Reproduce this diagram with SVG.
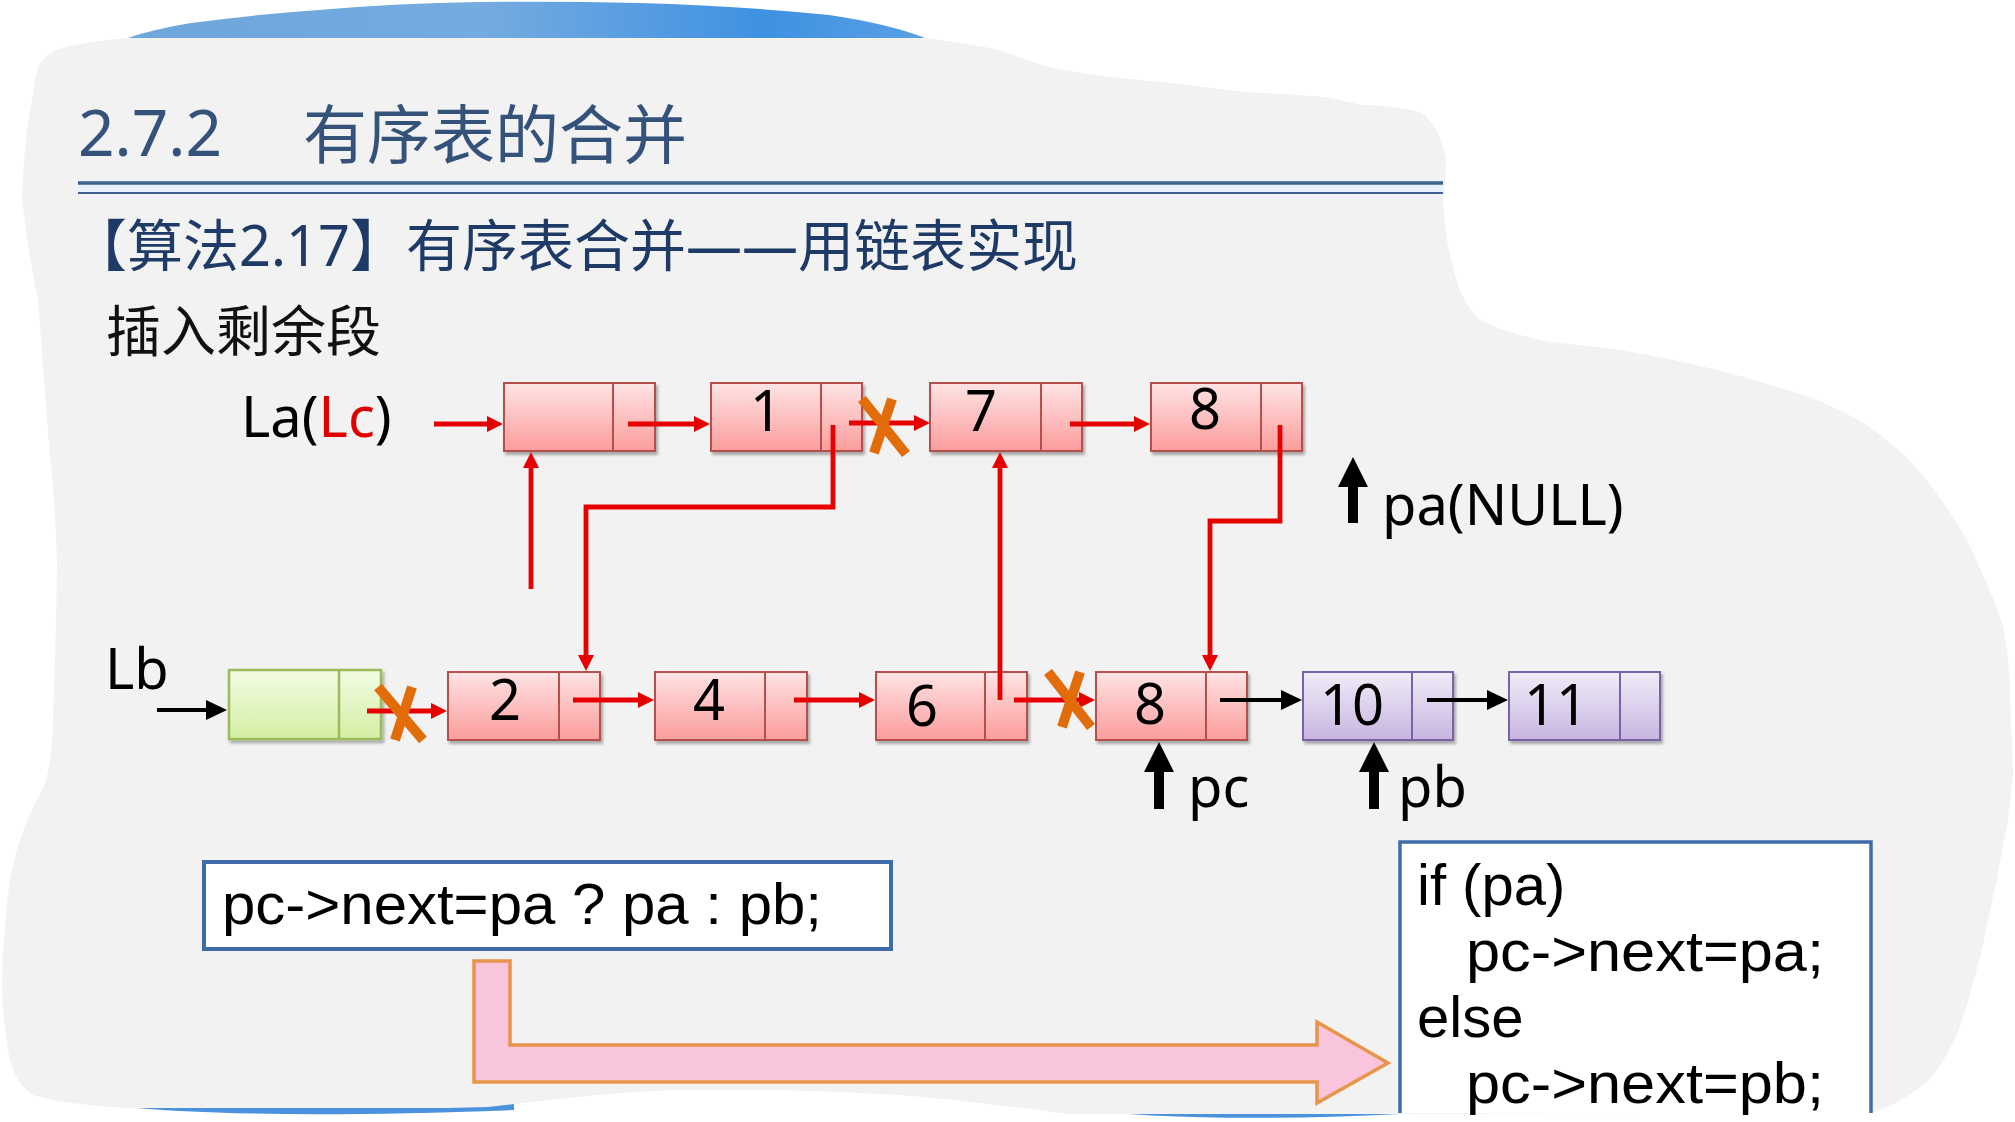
<svg xmlns="http://www.w3.org/2000/svg" width="2015" height="1122" viewBox="0 0 2015 1122">
<style>
.cjk{font-family:"Noto Sans","Noto Sans CJK SC",sans-serif}
.lat{font-family:"Noto Sans","Liberation Sans",sans-serif;font-size:56px;fill:#000}
.src{font-family:"Liberation Sans",Arial,sans-serif;font-size:58px;fill:#000}
.num{font-family:"Noto Sans","Liberation Sans",sans-serif;font-size:56px;fill:#000;text-anchor:middle}
.pink rect{fill:url(#gPink);stroke:#b5504c;stroke-width:2}
.pink line{stroke:#b5504c;stroke-width:2}
.purple rect{fill:url(#gPurple);stroke:#7a62a6;stroke-width:2}
.purple line{stroke:#7a62a6;stroke-width:2}
.green rect{fill:url(#gGreen);stroke:#9bbb59;stroke-width:2.5}
.green line{stroke:#9bbb59;stroke-width:2.5}
.red{fill:none;stroke:#e60000;stroke-width:4.8;marker-end:url(#mRed)}
.blk{fill:none;stroke:#000;stroke-width:4;marker-end:url(#mBlack)}
.cross{stroke:#e36c0a;stroke-width:10}
.ptr{fill:#000}
.code{fill:#fff;stroke:#3f6ca8;stroke-width:4}
</style>
<defs>
<linearGradient id="gPink" x1="0" y1="0" x2="0" y2="1"><stop offset="0" stop-color="#ffe4e4"/><stop offset="1" stop-color="#fb9c9c"/></linearGradient>
<linearGradient id="gPurple" x1="0" y1="0" x2="0" y2="1"><stop offset="0" stop-color="#f1ecf8"/><stop offset="1" stop-color="#c7b5e0"/></linearGradient>
<linearGradient id="gGreen" x1="0" y1="0" x2="0" y2="1"><stop offset="0" stop-color="#f3fbe4"/><stop offset="1" stop-color="#d3efa3"/></linearGradient>
<linearGradient id="gBlue" x1="0" y1="0" x2="1" y2="0"><stop offset="0" stop-color="#6ea6dc"/><stop offset="0.45" stop-color="#74abe0"/><stop offset="0.8" stop-color="#3f91e2"/><stop offset="1" stop-color="#5aa0e4"/></linearGradient>
<filter id="sh" x="-5%" y="-10%" width="115%" height="130%"><feDropShadow dx="2" dy="3" stdDeviation="1.5" flood-color="#000" flood-opacity="0.3"/></filter>
<marker id="mRed" markerUnits="userSpaceOnUse" viewBox="0 0 16 16" markerWidth="16" markerHeight="16" refX="8" refY="8" orient="auto"><path d="M0,0 L16,8 L0,16 Z" fill="#e60000"/></marker>
<marker id="mBlack" markerUnits="userSpaceOnUse" viewBox="0 0 21 20" markerWidth="21" markerHeight="20" refX="10" refY="10" orient="auto"><path d="M0,0 L21,10 L0,20 Z" fill="#000"/></marker>
</defs>

<g id="background">
<rect x="0" y="0" width="2015" height="1122" fill="#fff"/>
<path d="M128,38 Q150,30 191,23 Q260,14 319,10 Q400,3 478,2 Q560,1 638,3 Q740,6 829,15 Q890,24 925,38 Z" fill="url(#gBlue)"/>
<path d="M115,1106 Q250,1120 514,1110 L514,1104 L115,1104 Z" fill="#4a93dc"/>
<path d="M1060,1108 Q1200,1124 1401,1114 L1401,1106 L1060,1106 Z" fill="#4a93dc"/>
<path d="M36,75 Q40,52 70,46 Q100,40 128,38 L925,38 Q965,43 1000,50 Q1040,66 1065,70 Q1110,78 1162,82 L1246,92 Q1300,95 1324,97 Q1345,101 1362,105 Q1400,106 1420,112 Q1440,125 1446,160 Q1446,180 1443,200 Q1445,240 1453,267 Q1460,300 1478,318 Q1500,332 1550,342 Q1600,347 1621,350 Q1680,360 1733,374 Q1790,390 1817,400 Q1860,418 1883,437 Q1915,462 1933,489 Q1960,525 1973,553 Q1995,600 2003,626 Q2010,660 2010,695 L2013,774 Q2011,800 2007,826 Q2002,850 1997,879 Q1988,920 1980,958 Q1970,995 1962,1021 Q1950,1055 1930,1079 Q1910,1098 1876,1112 L1401,1114 L1067,1114 Q1030,1108 1002,1106 Q960,1100 900,1095 Q830,1091 771,1090 L681,1090 Q620,1092 578,1097 Q530,1102 488,1107 L447,1108 L128,1108 Q60,1104 33,1095 Q12,1080 8,1050 Q2,1010 2,984 Q3,930 10,879 Q20,830 37,800 Q50,780 52,740 Q56,650 57,563 Q55,500 50,458 Q44,380 38,300 Q28,250 22,200 Q24,140 32,100 Q34,85 36,75 Z" fill="#f2f2f2"/>
</g>

<g id="title">
<rect x="78" y="180" width="1365" height="14" fill="#e9f1fa"/>
<line x1="78" y1="183" x2="1443" y2="183" stroke="#3f6090" stroke-width="3.5"/>
<line x1="78" y1="193" x2="1443" y2="193" stroke="#3f6090" stroke-width="2"/>
<text class="cjk" x="78" y="156" font-size="64" fill="#34527a">2.7.2</text>
<text class="cjk" x="303" y="158" font-size="64" fill="#34527a">有序表的合并</text>
<text class="cjk" x="71" y="266" font-size="56" fill="#1e3a66">【算法2.17】有序表合并——用链表实现</text>
<text class="cjk" x="106" y="351" font-size="55" fill="#111">插入剩余段</text>
</g>

<g id="labels">
<text class="lat" x="241" y="437">La(<tspan fill="#e00000">Lc</tspan>)</text>
<text class="lat" x="105" y="689">Lb</text>
<text class="lat" x="1382" y="525">pa(NULL)</text>
<text class="lat" x="1188" y="807">pc</text>
<text class="lat" x="1398" y="807">pb</text>
</g>

<g id="nodeLaHead" class="pink" filter="url(#sh)"><rect x="504" y="383" width="151" height="68"/><line x1="613" y1="383" x2="613" y2="451"/></g>
<g id="nodeLa1" class="pink" filter="url(#sh)"><rect x="711" y="383" width="151" height="68"/><line x1="821" y1="383" x2="821" y2="451"/><text class="num" x="766" y="431">1</text></g>
<g id="nodeLa7" class="pink" filter="url(#sh)"><rect x="930" y="383" width="152" height="68"/><line x1="1041" y1="383" x2="1041" y2="451"/><text class="num" x="981" y="431">7</text></g>
<g id="nodeLa8" class="pink" filter="url(#sh)"><rect x="1151" y="383" width="151" height="68"/><line x1="1261" y1="383" x2="1261" y2="451"/><text class="num" x="1205" y="429">8</text></g>

<g id="nodeLbHead" class="green" filter="url(#sh)"><rect x="229" y="670" width="152" height="69"/><line x1="339" y1="670" x2="339" y2="739"/></g>
<g id="nodeLb2" class="pink" filter="url(#sh)"><rect x="448" y="672" width="152" height="68"/><line x1="559" y1="672" x2="559" y2="740"/><text class="num" x="505" y="720">2</text></g>
<g id="nodeLb4" class="pink" filter="url(#sh)"><rect x="655" y="672" width="152" height="68"/><line x1="765" y1="672" x2="765" y2="740"/><text class="num" x="709" y="720">4</text></g>
<g id="nodeLb6" class="pink" filter="url(#sh)"><rect x="876" y="672" width="151" height="68"/><line x1="985" y1="672" x2="985" y2="740"/><text class="num" x="922" y="726">6</text></g>
<g id="nodeLb8" class="pink" filter="url(#sh)"><rect x="1096" y="672" width="151" height="68"/><line x1="1206" y1="672" x2="1206" y2="740"/><text class="num" x="1150" y="724">8</text></g>
<g id="nodeLb10" class="purple" filter="url(#sh)"><rect x="1303" y="672" width="150" height="68"/><line x1="1412" y1="672" x2="1412" y2="740"/><text class="num" x="1352" y="725">10</text></g>
<g id="nodeLb11" class="purple" filter="url(#sh)"><rect x="1509" y="672" width="151" height="68"/><line x1="1620" y1="672" x2="1620" y2="740"/><text class="num" x="1556" y="725">11</text></g>

<g id="connectors">
<path class="red" d="M434,424 H495"/>
<path class="red" d="M628,424 H702"/>
<path class="red" d="M849,423 H922"/>
<path class="red" d="M1070,424 H1142"/>
<path class="red" d="M531,589 V460"/>
<path class="red" d="M833,425 V507 H586 V663"/>
<path class="red" d="M1000,700 V460"/>
<path class="red" d="M1280,425 V521 H1210 V663"/>
<path class="red" d="M367,711 H439"/>
<path class="red" d="M573,700 H646"/>
<path class="red" d="M794,700 H867"/>
<path class="red" d="M1014,700 H1087"/>
<path class="blk" d="M157,710 H216"/>
<path class="blk" d="M1220,700 H1291"/>
<path class="blk" d="M1427,700 H1497"/>
<g class="cross">
<line x1="862" y1="399" x2="906" y2="454"/><line x1="892" y1="399" x2="874" y2="453"/>
<line x1="378" y1="687" x2="423" y2="740"/><line x1="412" y1="687" x2="395" y2="740"/>
<line x1="1048" y1="672" x2="1091" y2="727"/><line x1="1080" y1="672" x2="1062" y2="727"/>
</g>
<polygon class="ptr" points="1353,457 1368,487 1358,487 1358,523 1348,523 1348,487 1338,487"/>
<polygon class="ptr" points="1159,742 1174,772 1164,772 1164,809 1154,809 1154,772 1144,772"/>
<polygon class="ptr" points="1374,742 1389,772 1379,772 1379,809 1369,809 1369,772 1359,772"/>
<path d="M474,961 H510 V1045 H1317 V1022 L1388,1063 L1317,1103 V1082 H474 Z" fill="#f8c5dd" stroke="#e8944a" stroke-width="3.5"/>
</g>

<g id="code1">
<rect class="code" x="204" y="862" width="687" height="87"/>
<text class="src" x="222" y="924" textLength="600" lengthAdjust="spacingAndGlyphs">pc-&gt;next=pa ? pa : pb;</text>
</g>
<g id="code2">
<path d="M1400,1113 V842 H1871 V1113 Z" fill="#fff"/>
<path d="M1400,1113 V842 H1871 V1113" fill="none" stroke="#3f6ca8" stroke-width="3.5"/>
<text class="src" x="1417" y="905">if (pa)</text>
<text class="src" x="1466" y="971" textLength="358" lengthAdjust="spacingAndGlyphs">pc-&gt;next=pa;</text>
<text class="src" x="1417" y="1037">else</text>
<text class="src" x="1466" y="1103" textLength="358" lengthAdjust="spacingAndGlyphs">pc-&gt;next=pb;</text>
</g>
</svg>
